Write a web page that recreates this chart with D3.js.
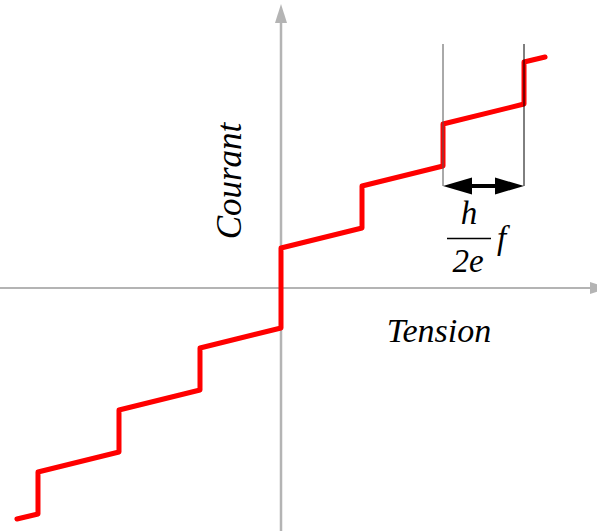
<!DOCTYPE html>
<html>
<head>
<meta charset="utf-8">
<script src="https://cdn.jsdelivr.net/npm/d3@7"></script>
<style>
  html, body { margin: 0; padding: 0; background: #fff; }
  svg { display: block; }
</style>
</head>
<body>
<svg id="chart" width="597" height="531"></svg>
<script>
// Data (tension in units of h f / 2e, current in arbitrary units)
const tension = [-3.26, -3, -3, -2, -2, -1, -1, 0, 0, 1, 1, 2, 2, 3, 3, 3.26];
const courant = [-11.55, -11.3, -9.2, -8.2, -6.1, -5.1, -3.0, -2.0, 2.0, 3.0, 5.1, 6.1, 8.2, 9.2, 11.3, 11.55];
const axisLabels = ["Tension", "Courant"];
const stepMarker = [2, 3];           // tension values bracketing the annotated step
const stepMarkerTop = 12.2;           // current value where guide lines start
const stepMarkerY = 5.1;              // current value of the double arrow

const W = 597, H = 531;
const svg = d3.select("#chart");

const x = d3.scaleLinear().domain([-3.469, 3.901]).range([0, W]);
const y = d3.scaleLinear().domain([-12.15, 14.4]).range([H, 0]);

const axisColor = "#b4b4b4";

// Horizontal axis
svg.append("line")
  .attr("x1", 0).attr("x2", 592)
  .attr("y1", y(0)).attr("y2", y(0))
  .attr("stroke", axisColor).attr("stroke-width", 2);
svg.append("path")
  .attr("d", `M${590},${y(0) - 6} L${608},${y(0)} L${590},${y(0) + 6} Z`)
  .attr("fill", axisColor);

// Vertical axis
svg.append("line")
  .attr("x1", x(0)).attr("x2", x(0))
  .attr("y1", H).attr("y2", 20)
  .attr("stroke", axisColor).attr("stroke-width", 2.5);
svg.append("path")
  .attr("d", `M${x(0) - 6},${23} L${x(0)},${4} L${x(0) + 6},${23} Z`)
  .attr("fill", axisColor);

// Step curve
const pts = tension.map((t, i) => [t, courant[i]]);
svg.append("path")
  .datum(pts)
  .attr("d", d3.line().x(d => x(d[0])).y(d => y(d[1])))
  .attr("fill", "none")
  .attr("stroke", "#ff0000")
  .attr("stroke-width", 5)
  .attr("stroke-linejoin", "round")
  .attr("stroke-linecap", "round");

// Annotation guide lines
svg.append("line")
  .attr("x1", x(stepMarker[0])).attr("x2", x(stepMarker[0]))
  .attr("y1", y(stepMarkerTop)).attr("y2", y(stepMarkerY))
  .attr("stroke", "#555").attr("stroke-width", 1);
svg.append("line")
  .attr("x1", x(stepMarker[1])).attr("x2", x(stepMarker[1]))
  .attr("y1", y(stepMarkerTop)).attr("y2", y(stepMarkerY))
  .attr("stroke", "#000").attr("stroke-width", 1);

// Double arrow
const ax0 = x(stepMarker[0]), ax1 = x(stepMarker[1]), ay = y(stepMarkerY);
svg.append("line")
  .attr("x1", ax0 + 20).attr("x2", ax1 - 20)
  .attr("y1", ay).attr("y2", ay)
  .attr("stroke", "#000").attr("stroke-width", 4);
svg.append("path")
  .attr("d", `M${ax0},${ay} L${ax0 + 29},${ay - 8.5} L${ax0 + 29},${ay + 8.5} Z`)
  .attr("fill", "#000");
svg.append("path")
  .attr("d", `M${ax1},${ay} L${ax1 - 29},${ay - 8.5} L${ax1 - 29},${ay + 8.5} Z`)
  .attr("fill", "#000");

// Serif italic labels
function label(tx, ty, size, str, anchor, rot) {
  const t = svg.append("text")
    .attr("text-anchor", anchor || "start")
    .style("font-family", "\"Liberation Serif\"")
    .style("font-style", "italic")
    .style("font-size", size + "px")
    .style("fill", "#000")
    .text(str);
  if (rot) t.attr("transform", `translate(${tx},${ty}) rotate(${rot})`);
  else t.attr("x", tx).attr("y", ty);
  return t;
}

// Fraction h / 2e  f
label(469, 224, 33, "h", "middle");
svg.append("line")
  .attr("x1", 447).attr("x2", 491)
  .attr("y1", 238.5).attr("y2", 238.5)
  .attr("stroke", "#000").attr("stroke-width", 1.5);
label(468, 272, 33, "2e", "middle");
label(497, 249, 33, "f", "start");

// Axis labels
label(439, 342, 34, axisLabels[0], "middle");
label(241, 181, 35, axisLabels[1], "middle", -90);
</script>
</body>
</html>
